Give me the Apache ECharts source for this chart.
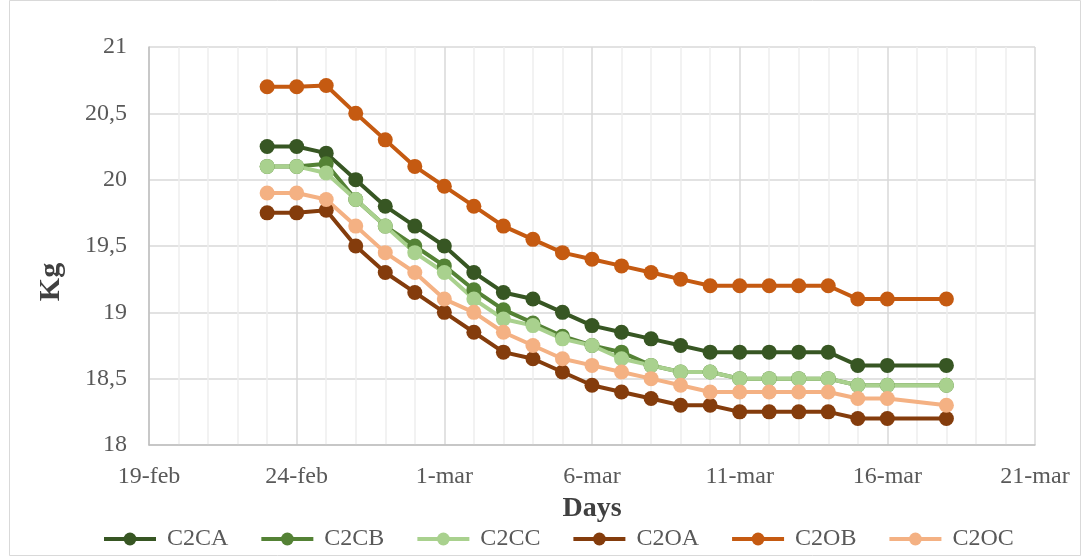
<!DOCTYPE html>
<html>
<head>
<meta charset="utf-8">
<script src="https://cdn.jsdelivr.net/npm/echarts@6/dist/echarts.min.js"></script>
<style>
html,body{margin:0;padding:0;background:#fff;}
#chart{width:1082px;height:557px;}
</style>
</head>
<body>
<div id="chart"></div>
<script>
const startDate = '2023-02-19';
const dates = ['2023-02-23','2023-02-24','2023-02-25','2023-02-26','2023-02-27','2023-02-28',
  '2023-03-01','2023-03-02','2023-03-03','2023-03-04','2023-03-05','2023-03-06','2023-03-07',
  '2023-03-08','2023-03-09','2023-03-10','2023-03-11','2023-03-12','2023-03-13','2023-03-14',
  '2023-03-15','2023-03-16','2023-03-18'];
const xTickLabels = ['19-feb','24-feb','1-mar','6-mar','11-mar','16-mar','21-mar'];
const seriesNames = ['C2CA','C2CB','C2CC','C2OA','C2OB','C2OC'];
const C2CA = [20.25,20.25,20.2,20.0,19.8,19.65,19.5,19.3,19.15,19.1,19.0,18.9,18.85,18.8,18.75,18.7,18.7,18.7,18.7,18.7,18.6,18.6,18.6];
const C2CB = [20.1,20.1,20.12,19.85,19.65,19.5,19.35,19.17,19.02,18.92,18.82,18.75,18.7,18.6,18.55,18.55,18.5,18.5,18.5,18.5,18.45,18.45,18.45];
const C2CC = [20.1,20.1,20.05,19.85,19.65,19.45,19.3,19.1,18.95,18.9,18.8,18.75,18.65,18.6,18.55,18.55,18.5,18.5,18.5,18.5,18.45,18.45,18.45];
const C2OA = [19.75,19.75,19.77,19.5,19.3,19.15,19.0,18.85,18.7,18.65,18.55,18.45,18.4,18.35,18.3,18.3,18.25,18.25,18.25,18.25,18.2,18.2,18.2];
const C2OB = [20.7,20.7,20.71,20.5,20.3,20.1,19.95,19.8,19.65,19.55,19.45,19.4,19.35,19.3,19.25,19.2,19.2,19.2,19.2,19.2,19.1,19.1,19.1];
const C2OC = [19.9,19.9,19.85,19.65,19.45,19.3,19.1,19.0,18.85,18.75,18.65,18.6,18.55,18.5,18.45,18.4,18.4,18.4,18.4,18.4,18.35,18.35,18.3];
const colors = ['#375623','#548235','#a9d18e','#843c0c','#c55a11','#f4b183'];

const DAY = 86400000;
const dayIndex = d => Math.round((Date.parse(d) - Date.parse(startDate)) / DAY);
const allValues = [C2CA, C2CB, C2CC, C2OA, C2OB, C2OC];

const chart = echarts.init(document.getElementById('chart'));
const font = 'Liberation Serif';
chart.setOption({
  animation: false,
  color: colors,
  graphic: [{
    type: 'rect', shape: {x: 9.5, y: 0.5, width: 1071, height: 555},
    style: {fill: 'none', stroke: '#d9d9d9', lineWidth: 1}, z: -10
  }, {
    type: 'text', x: 51, y: 282, rotation: Math.PI / 2,
    style: {text: 'Kg', font: 'bold 30px "Liberation Serif"', fill: '#404040',
      textAlign: 'center', textVerticalAlign: 'middle'}
  }],
  grid: {left: 149, right: 47, top: 47, bottom: 112, containLabel: false},
  legend: {
    data: seriesNames,
    left: 97, top: 522,
    itemWidth: 52, itemHeight: 16, itemGap: 31,
    lineStyle: {width: 4},
    textStyle: {fontFamily: font, fontSize: 24, color: '#595959', padding: [0,0,0,6]}
  },
  xAxis: {
    type: 'value', min: 0, max: 30, interval: 5,
    name: 'Days', nameLocation: 'middle', nameGap: 50,
    nameTextStyle: {fontFamily: font, fontSize: 28, fontWeight: 'bold', color: '#404040'},
    axisLine: {show: true, lineStyle: {color: '#bfbfbf', width: 1.5}},
    axisTick: {show: false},
    axisLabel: {margin: 20, fontFamily: font, fontSize: 24, color: '#595959',
      formatter: v => xTickLabels[Math.round(v / 5)]},
    splitLine: {show: true, lineStyle: {color: '#d9d9d9', width: 1.5}},
    minorTick: {show: false, splitNumber: 5},
    minorSplitLine: {show: true, lineStyle: {color: '#eeeeee', width: 1.5}}
  },
  yAxis: {
    type: 'value', min: 18, max: 21, interval: 0.5,
    axisLine: {show: true, lineStyle: {color: '#bfbfbf', width: 1.5}},
    axisTick: {show: false},
    axisLabel: {margin: 22, fontFamily: font, fontSize: 24, color: '#595959',
      formatter: v => String(v).replace('.', ',')},
    splitLine: {show: true, lineStyle: {color: '#d9d9d9', width: 1.5}}
  },
  series: seriesNames.map((name, i) => ({
    name: name,
    type: 'line',
    data: dates.map((d, j) => [dayIndex(d), allValues[i][j]]),
    symbol: 'circle', symbolSize: 15,
    lineStyle: {width: 4, color: colors[i]},
    itemStyle: {color: colors[i]}
  }))
});
</script>
</body>
</html>
